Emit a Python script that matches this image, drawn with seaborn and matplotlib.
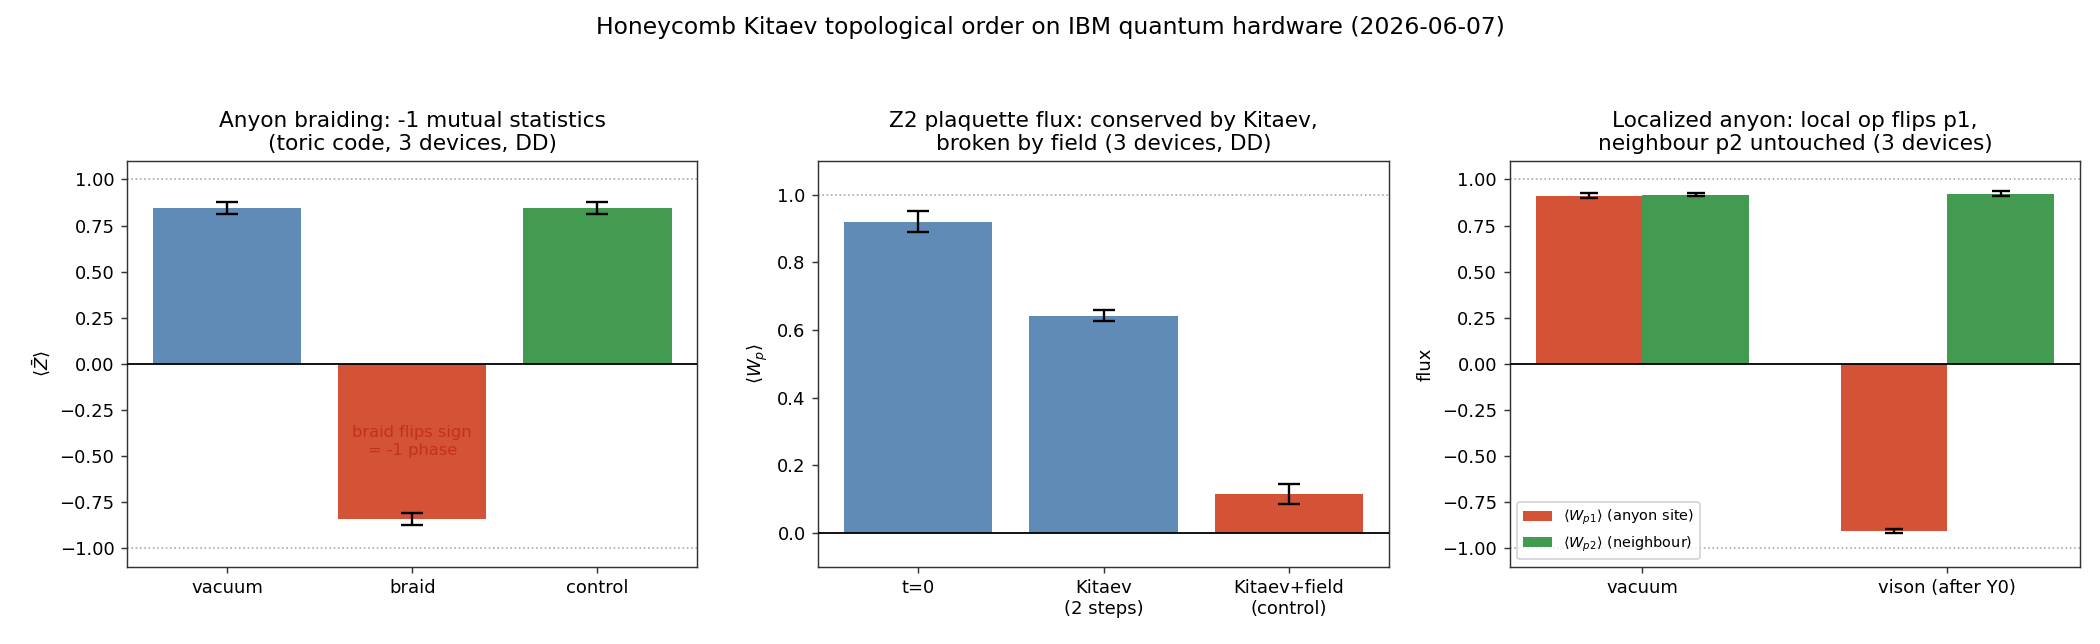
import seaborn as sns
import pandas as pd
import matplotlib.pyplot as plt
import numpy as np

# panel 1: braiding
braid_labels = ['vacuum', 'braid', 'control']
braid_vals = [0.843, -0.843, 0.843]
braid_errs = [0.032, 0.032, 0.032]

# panel 2: plaquette flux
flux_labels = ['t=0', 'Kitaev\n(2 steps)', 'Kitaev+field\n(control)']
flux_vals = [0.920, 0.643, 0.115]
flux_errs = [0.031, 0.017, 0.029]

# panel 3: localized anyon
loc_states = ['vacuum', 'vison (after Y0)']
loc_sites = [r'$\langle W_{p1} \rangle$ (anyon site)', r'$\langle W_{p2} \rangle$ (neighbour)']
p1_vals = [0.912, -0.905]
p1_errs = [0.014, 0.010]
p2_vals = [0.918, 0.923]
p2_errs = [0.010, 0.013]

BLUE = '#5f8bb6'
RED = '#d45235'
GREEN = '#439b51'

sns.set_style('ticks', rc={'xtick.major.size': 4, 'ytick.major.size': 4,
                           'axes.edgecolor': '.2', 'xtick.color': '.2', 'ytick.color': '.2'})
plt.rcParams.update({'text.color': 'black', 'axes.labelcolor': 'black',
                     'xtick.labelcolor': 'black', 'ytick.labelcolor': 'black',
                     'font.size': 10, 'axes.titlesize': 12})

fig, axes = plt.subplots(1, 3, figsize=(2100/130, 644/130), dpi=130)


def ref_lines(ax, lo=True):
    ax.axhline(1, color='gray', ls=':', lw=0.9, alpha=0.7, zorder=0)
    if lo:
        ax.axhline(-1, color='gray', ls=':', lw=0.9, alpha=0.7, zorder=0)
    ax.axhline(0, color='k', lw=1.0, zorder=3)


def add_errs(ax, container, errs, capsize):
    xs = [b.get_x() + b.get_width()/2 for b in container]
    ys = [b.get_y() + b.get_height() for b in container]
    ax.errorbar(xs, ys, yerr=errs, fmt='none', ecolor='k', capsize=capsize,
                elinewidth=1.3, capthick=1.3, zorder=4)


bar_kw = dict(errorbar=None, saturation=1, linewidth=0, edgecolor='none')

# --- panel 1
ax = axes[0]
df1 = pd.DataFrame({'case': braid_labels, 'Z': braid_vals})
sns.barplot(ax=ax, data=df1, x='case', y='Z', hue='case', palette=[BLUE, RED, GREEN],
            legend=False, width=0.8, **bar_kw)
add_errs(ax, [c[0] for c in ax.containers], braid_errs, 6)
ref_lines(ax)
ax.text(1, -0.42, 'braid flips sign\n= -1 phase', ha='center', va='center',
        fontsize=9, color='#c4311c')
ax.set_xlim(-0.54, 2.54)
ax.set_ylim(-1.1, 1.1)
ax.set_yticks(np.arange(-1, 1.01, 0.25))
ax.set_xlabel('')
ax.set_ylabel(r'$\langle \bar{Z} \rangle$')
ax.set_title('Anyon braiding: -1 mutual statistics\n(toric code, 3 devices, DD)')

# --- panel 2
ax = axes[1]
df2 = pd.DataFrame({'step': flux_labels, 'Wp': flux_vals})
sns.barplot(ax=ax, data=df2, x='step', y='Wp', hue='step', palette=[BLUE, BLUE, RED],
            legend=False, width=0.8, **bar_kw)
add_errs(ax, [c[0] for c in ax.containers], flux_errs, 6)
ref_lines(ax, lo=False)
ax.set_xlim(-0.54, 2.54)
ax.set_ylim(-0.1, 1.1)
ax.set_xlabel('')
ax.set_ylabel(r'$\langle W_p \rangle$')
ax.set_title('Z2 plaquette flux: conserved by Kitaev,\nbroken by field (3 devices, DD)')

# --- panel 3
ax = axes[2]
df3 = pd.DataFrame({'state': loc_states * 2,
                    'site': [loc_sites[0]] * 2 + [loc_sites[1]] * 2,
                    'flux': p1_vals + p2_vals})
sns.barplot(ax=ax, data=df3, x='state', y='flux', hue='site', palette=[RED, GREEN],
            width=0.7, **bar_kw)
for cont, errs in zip(ax.containers, [p1_errs, p2_errs]):
    add_errs(ax, cont, errs, 5)
ref_lines(ax)
ax.set_xlim(-0.435, 1.435)
ax.set_ylim(-1.1, 1.1)
ax.set_yticks(np.arange(-1, 1.01, 0.25))
ax.set_xlabel('')
ax.set_ylabel('flux')
handles, labels = ax.get_legend_handles_labels()
ax.legend(handles, labels, loc='lower left', fontsize=8)
ax.set_title('Localized anyon: local op flips p1,\nneighbour p2 untouched (3 devices)')

fig.suptitle('Honeycomb Kitaev topological order on IBM quantum hardware (2026-06-07)',
             fontsize=13, y=0.975)
plt.subplots_adjust(left=0.0605, right=0.9905, top=0.75, bottom=0.12, wspace=0.212)
fig.savefig('out.png', dpi=130)
